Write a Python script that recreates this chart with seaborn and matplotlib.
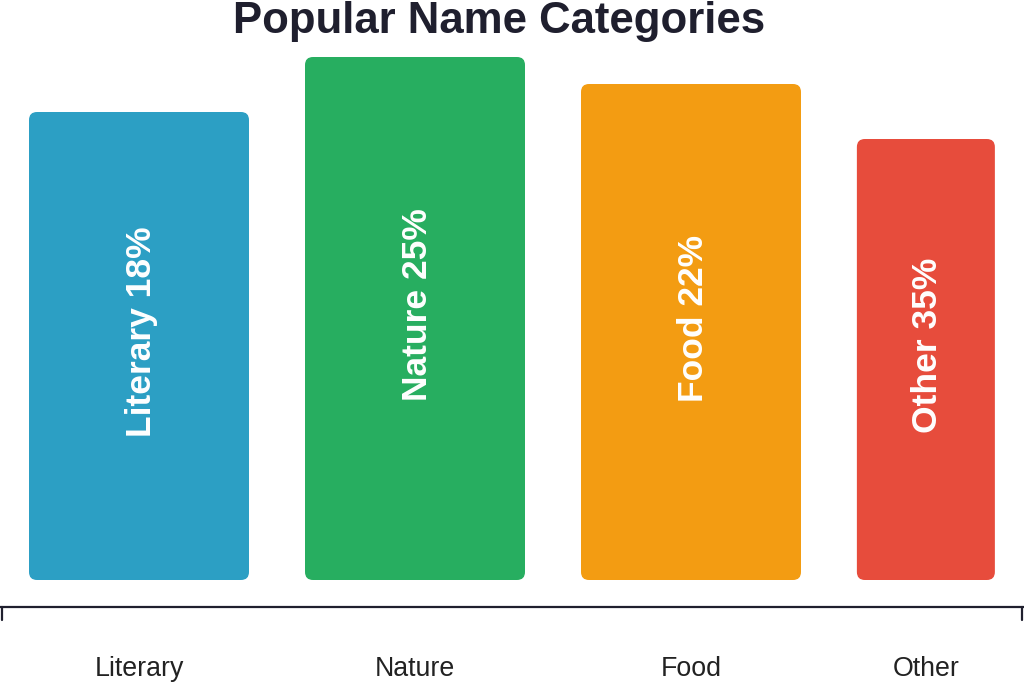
import matplotlib
matplotlib.use('Agg')
import matplotlib.pyplot as plt
from matplotlib.patches import FancyBboxPatch
import seaborn as sns
import pandas as pd

categories = ['Literary', 'Nature', 'Food', 'Other']
shares = [18, 25, 22, 35]          # percentages shown in the labels
bar_heights = [468, 523, 496, 441]  # drawn height of each bar
colors = ['#2c9fc4', '#27ae60', '#f39c12', '#e74c3c']

df = pd.DataFrame({'category': categories, 'height': bar_heights, 'share': shares})

sns.set_theme(style='white')
plt.rcParams['font.family'] = ['Liberation Sans', 'DejaVu Sans']

fig = plt.figure(figsize=(10.24, 6.82), dpi=100)
# axes: bottom spine at pixel row 607, top at row 40
ax = fig.add_axes([0, 75 / 682, 1, 567 / 682])

sns.barplot(data=df, x='category', y='height', hue='category', palette=colors,
            width=220 / 276, legend=False, ax=ax)

# layout of the last (narrower) bar
centers = [0, 1, 2, 2.851]
widths = [220 / 276, 220 / 276, 220 / 276, 138 / 276]

for patch in list(ax.patches):
    patch.remove()

for i, row in df.iterrows():
    w = widths[i]
    box = FancyBboxPatch((centers[i] - w / 2, 0), w, row['height'],
                         boxstyle='round,pad=0,rounding_size=%f' % (8 / 276),
                         mutation_aspect=276, facecolor=colors[i], edgecolor='none')
    ax.add_patch(box)
    ax.text(centers[i] + 2 / 276, row['height'] / 2 + 14, f"{row['category']} {row['share']}%",
            rotation=90, ha='center', va='center', color='white',
            fontsize=25.5, fontweight='bold')

ax.set_xlim(-139 / 276, 885 / 276)
ax.set_ylim(-27, 540)
ax.set_xticks(centers)
ax.set_xticklabels(categories, fontsize=19.3, color='#222222')
ax.tick_params(axis='x', length=0, pad=35)
ax.set_yticks([])
ax.set_xlabel('')
ax.set_ylabel('')
for s in ['top', 'right', 'left']:
    ax.spines[s].set_visible(False)
ax.spines['bottom'].set_color('#1f1f2e')
ax.spines['bottom'].set_linewidth(1.6)

# end ticks of the domain line
for xp in [2 / 1024, 1022 / 1024]:
    ax.plot([xp, xp], [0, -13 / 567], transform=ax.transAxes, color='#1f1f2e',
            lw=1.6, clip_on=False)

fig.text(499 / 1024, 1 - 33 / 682, 'Popular Name Categories', ha='center', va='baseline',
         fontsize=31.5, fontweight='bold', color='#1f1f2e')

plt.savefig('out.png', dpi=100)
plt.close()
